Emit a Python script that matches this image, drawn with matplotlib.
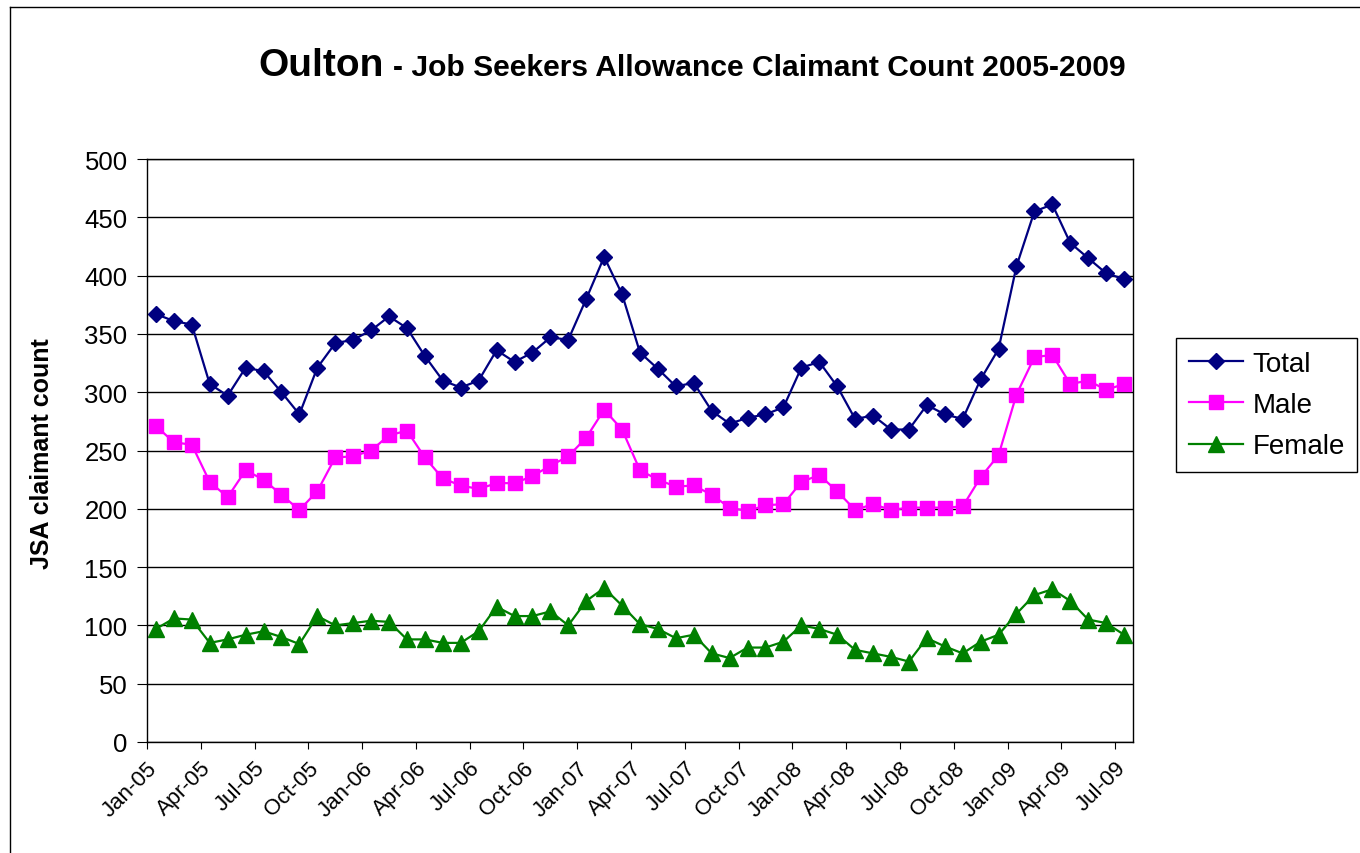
import numpy as np
import matplotlib
matplotlib.use("Agg")
import matplotlib.pyplot as plt
from matplotlib.lines import Line2D

plt.rcParams['font.family'] = ['Liberation Sans', 'DejaVu Sans']

# monthly claimant counts, Jan-05 .. Jul-09
total = [367, 361, 358, 307, 297, 321, 318, 300, 281, 321,
         342, 345, 353, 365, 355, 331, 310, 304, 310, 336,
         326, 334, 347, 345, 380, 416, 384, 334, 320, 305,
         308, 284, 273, 278, 281, 287, 321, 326, 305, 277,
         280, 268, 268, 289, 281, 277, 311, 337, 408, 455,
         461, 428, 415, 402, 397]
male = [271, 257, 255, 223, 210, 233, 225, 212, 199, 215,
        244, 245, 250, 263, 267, 244, 226, 220, 217, 222,
        222, 228, 237, 245, 261, 285, 268, 233, 225, 219,
        220, 212, 201, 198, 203, 204, 223, 229, 215, 199,
        204, 199, 201, 201, 201, 202, 227, 246, 298, 330,
        332, 307, 310, 302, 307]
female = [97, 106, 105, 85, 88, 92, 95, 90, 84, 108,
          100, 102, 104, 103, 88, 88, 85, 85, 95, 116,
          108, 108, 112, 100, 121, 132, 117, 101, 97, 89,
          92, 76, 72, 81, 81, 86, 100, 97, 92, 79,
          76, 73, 69, 89, 82, 76, 86, 92, 110, 126,
          131, 121, 105, 102, 92]
tick_labels = ["Jan-05", "Apr-05", "Jul-05", "Oct-05", "Jan-06", "Apr-06",
               "Jul-06", "Oct-06", "Jan-07", "Apr-07", "Jul-07", "Oct-07",
               "Jan-08", "Apr-08", "Jul-08", "Oct-08", "Jan-09", "Apr-09",
               "Jul-09"]

W, H = 1360, 854
fig = plt.figure(figsize=(W / 100, H / 100), dpi=100)
ax = fig.add_axes([147 / W, 1 - 743 / H, (1133 - 147) / W, (743 - 160) / H])

x = np.arange(len(total)) + 0.5
ax.plot(x, total, color="#000080", marker="D", ms=8, lw=1.6, label="Total", clip_on=False)
ax.plot(x, male, color="#FF00FF", marker="s", ms=10.5, lw=1.6, label="Male", clip_on=False)
ax.plot(x, female, color="#008000", marker="^", ms=11, lw=1.6, label="Female", clip_on=False)

ax.set_xlim(0, len(total))
ax.set_ylim(0, 500)
ax.set_yticks(range(0, 501, 50))
ax.set_xticks(range(0, len(total), 3))
ax.set_xticklabels(tick_labels, rotation=45, ha="right", va="top",
                   rotation_mode="anchor", fontsize=16)
ax.grid(axis="y", color="black", lw=1)
ax.set_axisbelow(True)
ax.tick_params(axis="y", direction="out", length=7, labelsize=18.5, pad=7)
ax.tick_params(axis="x", direction="out", length=5, pad=6)
for s in ax.spines.values():
    s.set_color("black")
    s.set_linewidth(1)

fig.text(42 / W, 1 - 454 / H, "JSA claimant count", rotation=90, ha="center",
         va="center", fontsize=18, fontweight="bold")

fig.text(258 / W, 1 - 76 / H, "Oulton", fontsize=28, fontweight="bold",
         ha="left", va="baseline")
fig.text(393 / W, 1 - 76 / H, "- Job Seekers Allowance Claimant Count 2005-2009",
         fontsize=21.6, fontweight="bold", ha="left", va="baseline")

fig.legend(loc="center left", bbox_to_anchor=(1176 / W, 1 - 406 / H),
           fontsize=20, frameon=True, fancybox=False, edgecolor="black",
           framealpha=1, handlelength=1.95, handletextpad=0.35,
           labelspacing=0.55, borderpad=0.45, borderaxespad=0)

# chart area border
fig.add_artist(Line2D([10 / W, 10 / W], [0, 1 - 8 / H], color="black", lw=1))
fig.add_artist(Line2D([10 / W, 1], [1 - 8 / H, 1 - 8 / H], color="black", lw=1))

fig.savefig("out.png", dpi=100)
